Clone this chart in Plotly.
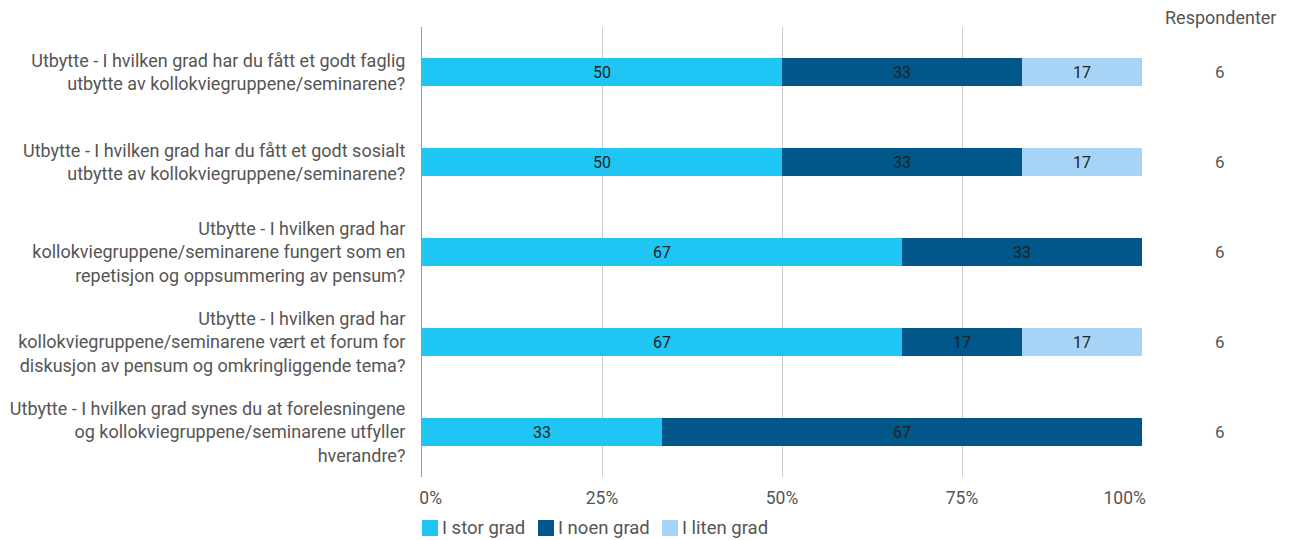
import plotly.graph_objects as go

categories = [
    "Utbytte - I hvilken grad har du fått et godt faglig<br>utbytte av kollokviegruppene/seminarene?",
    "Utbytte - I hvilken grad har du fått et godt sosialt<br>utbytte av kollokviegruppene/seminarene?",
    "Utbytte - I hvilken grad har<br>kollokviegruppene/seminarene fungert som en<br>repetisjon og oppsummering av pensum?",
    "Utbytte - I hvilken grad har<br>kollokviegruppene/seminarene vært et forum for<br>diskusjon av pensum og omkringliggende tema?",
    "Utbytte - I hvilken grad synes du at forelesningene<br>og kollokviegruppene/seminarene utfyller<br>hverandre?",
]
series_names = ["I stor grad", "I noen grad", "I liten grad"]
stor = [3, 3, 4, 4, 2]
noen = [2, 2, 2, 1, 4]
liten = [1, 1, 0, 1, 0]
respondents = [6, 6, 6, 6, 6]
tick_vals = [0, 25, 50, 75, 100]
tick_text = ["0%", "25%", "50%", "75%", "100%"]

colors = ["#1FC5F3", "#01568A", "#A7D4F6"]
font = "Roboto"
grey = "#555555"

fig = go.Figure()
for name, counts, col in zip(series_names, [stor, noen, liten], colors):
    pct = [c / r * 100 for c, r in zip(counts, respondents)]
    txt = [str(round(p)) if p > 0 else "" for p in pct]
    fig.add_trace(go.Bar(
        y=categories, x=pct, name=name, orientation="h",
        marker=dict(color=col, line=dict(width=0)),
        text=txt, textposition="inside", insidetextanchor="middle",
        textfont=dict(color="#222222", size=16, family=font),
        width=0.31, hoverinfo="skip", showlegend=False,
    ))

# Respondents column
for cat, r in zip(categories, respondents):
    fig.add_annotation(x=1.0, xref="paper", xshift=78, xanchor="center",
                       y=cat, yref="y", text=str(r), showarrow=False,
                       font=dict(size=17, color=grey, family=font))
fig.add_annotation(x=1.0, xref="paper", xshift=78, xanchor="center",
                   y=1.0, yref="paper", yshift=10, yanchor="middle",
                   text="Respondenter", showarrow=False,
                   font=dict(size=18, color=grey, family=font))

# Legend (drawn below the plot, Google-Charts style)
plot_w = 720.0
plot_h = 450.0
sq_left = [0, 116, 240]
for name, col, off in zip(series_names, colors, sq_left):
    x0 = off / plot_w
    x1 = (off + 16) / plot_w
    fig.add_shape(type="rect", xref="paper", yref="paper",
                  x0=x0, x1=x1, y0=-43 / plot_h, y1=-59 / plot_h,
                  fillcolor=col, line=dict(width=0))
    fig.add_annotation(x=(off + 18) / plot_w, xref="paper", xanchor="left",
                       y=-51 / plot_h, yref="paper", yanchor="middle",
                       text=name, showarrow=False,
                       font=dict(size=18.5, color=grey, family=font))

# End tick labels are inset, as in the original
nb = "&nbsp;"
tick_text_disp = list(tick_text)
tick_text_disp[0] = nb * 4 + tick_text[0]
tick_text_disp[-1] = tick_text[-1] + nb * 8

fig.update_layout(
    barmode="stack",
    width=1289, height=540,
    margin=dict(l=414, r=155, t=19, b=71, autoexpand=False),
    paper_bgcolor="white", plot_bgcolor="white",
    font=dict(family=font, color=grey),
    showlegend=False,
    bargap=0.69,
)
fig.update_xaxes(range=[0, 100], tickvals=tick_vals, ticktext=tick_text_disp,
                 showgrid=True, gridcolor="#CCCCCC", gridwidth=1,
                 zeroline=False, showline=False, automargin=False,
                 tickfont=dict(size=17.5, color=grey, family=font),
                 ticks="", ticklabelstandoff=8)
fig.update_yaxes(autorange="reversed", showgrid=False, zeroline=False,
                 showline=True, linecolor="#999999", linewidth=1, automargin=False,
                 tickfont=dict(size=18, color=grey, family=font),
                 ticks="", ticklabelstandoff=12)

fig.write_html("out.html")
